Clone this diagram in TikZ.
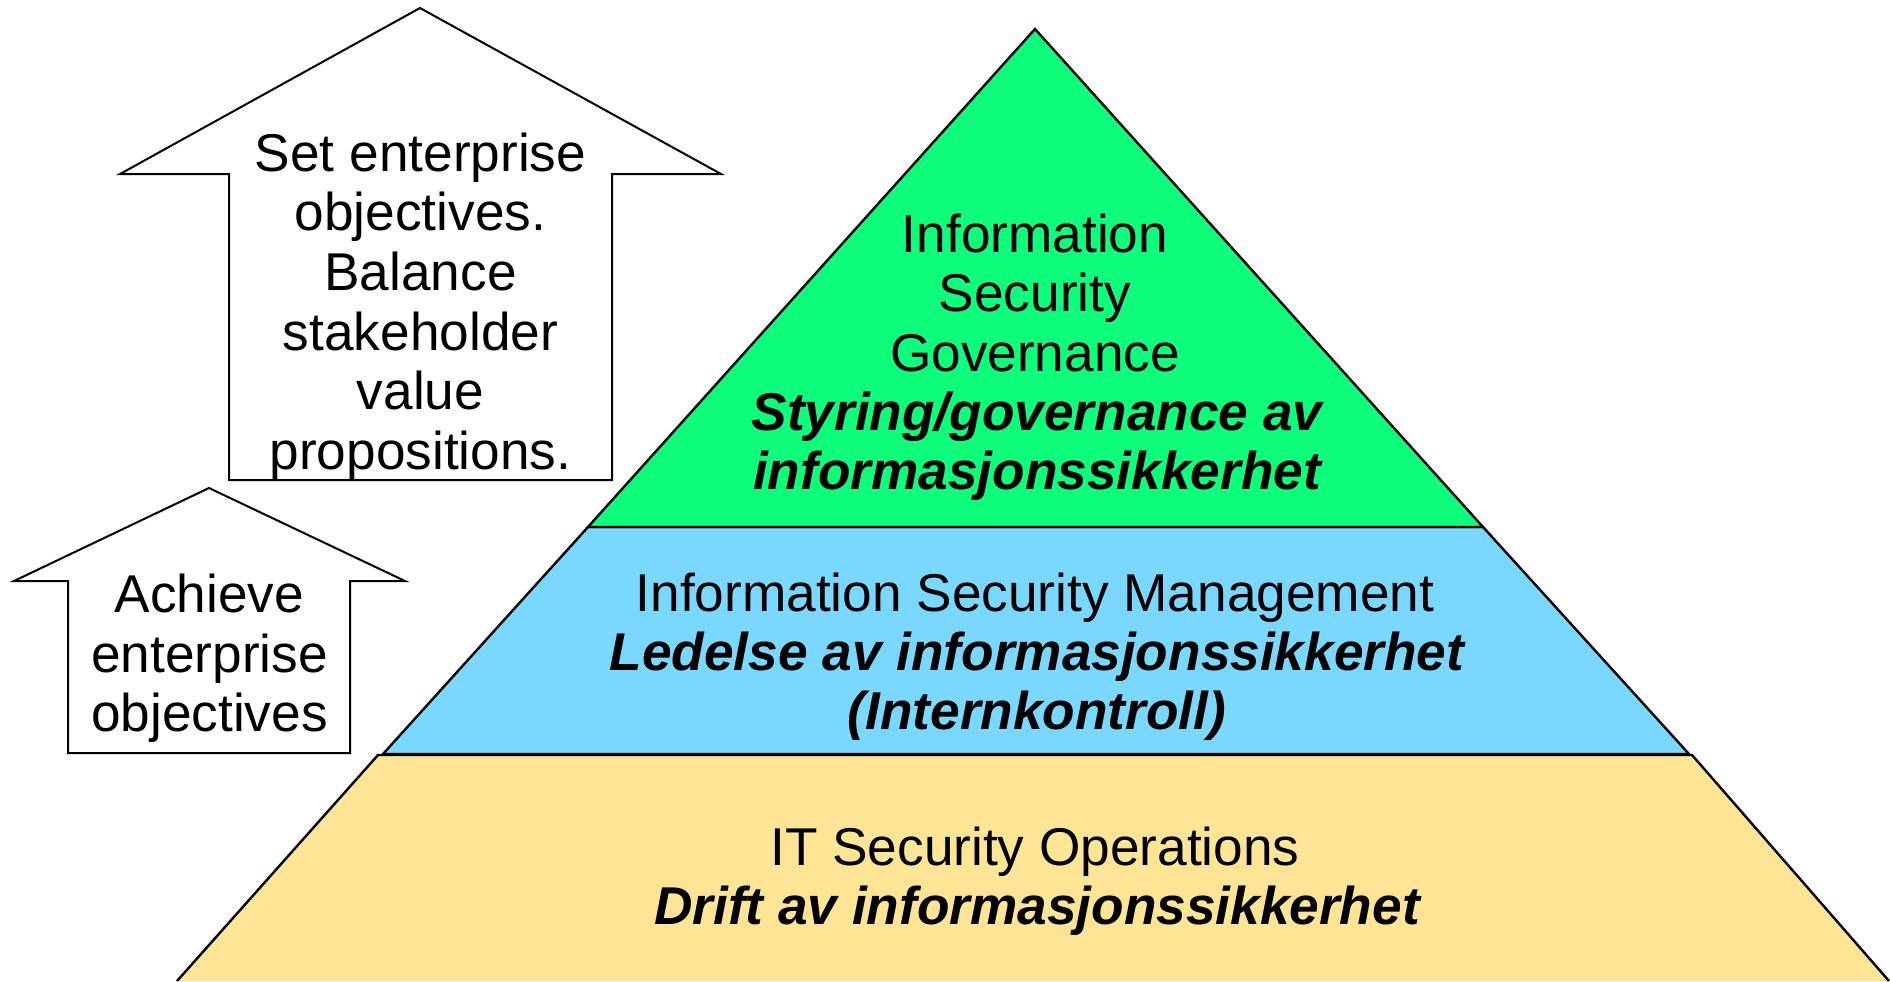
\documentclass[tikz,border=0pt]{standalone}
\usepackage{fontspec}
\setmainfont{Liberation Sans}
\definecolor{govgreen}{RGB}{14,253,122}
\definecolor{mgmtblue}{RGB}{122,216,254}
\definecolor{opsyellow}{RGB}{254,229,150}
\tikzset{
  lbl/.style={font=\fontsize{26.6}{29.8}\selectfont, inner sep=0pt, anchor=base},
  lblbi/.style={lbl, font=\fontsize{26.6}{29.8}\selectfont\bfseries\itshape},
  arrowoutline/.style={draw=black, line width=1pt, fill=white, line join=miter},
  tierline/.style={draw=black, line width=1.2pt, line join=miter},
}
\begin{document}
\begin{tikzpicture}[x=0.5pt,y=-0.5pt]
\useasboundingbox (0,0) rectangle (1890,981);
% pyramid tiers
\fill[opsyellow] (378,755) -- (1692,755) -- (1889,981) -- (177,981) -- cycle;
\draw[tierline] (177,981) -- (378,755) -- (1692,755) -- (1889,981);
\draw[tierline, fill=mgmtblue] (588,527) -- (1483,527) -- (1689,754) -- (383,754) -- cycle;
\draw[tierline, fill=govgreen] (1035,29) -- (1483,527) -- (588,527) -- cycle;
% big arrow
\draw[arrowoutline] (420,8) -- (721,174) -- (612,174) -- (612,480) -- (229,480) -- (229,174) -- (120,174) -- cycle;
% small arrow
\draw[arrowoutline] (209,488) -- (405,581) -- (350,581) -- (350,753) -- (68,753) -- (68,581) -- (14,581) -- cycle;
% big arrow text
\node[lbl] (b1) at (420.5,171) {Set enterprise};
\node[lbl] (b2) at (420.5,230.5) {objectives.};
\node[lbl] (b3) at (420.5,290) {Balance};
\node[lbl] (b4) at (420.5,350) {stakeholder};
\node[lbl] (b5) at (420.5,409.5) {value};
\node[lbl] (b6) at (420.5,469) {propositions.};
% small arrow text
\node[lbl] (s1) at (209.5,612) {Achieve};
\node[lbl] (s2) at (209.5,672) {enterprise};
\node[lbl] (s3) at (209.5,731) {objectives};
% governance text
\node[lbl] (g1) at (1035,252) {Information};
\node[lbl] (g2) at (1035,311) {Security};
\node[lbl] (g3) at (1035,371) {Governance};
\node[lblbi] (g4) at (1037,430) {Styring/governance av};
\node[lblbi] (g5) at (1037,489) {informasjonssikkerhet};
% management text
\node[lbl] (m1) at (1035,611) {Information Security Management};
\node[lblbi] (m2) at (1037,670) {Ledelse av informasjonssikkerhet};
\node[lblbi] (m3) at (1037,729) {(Internkontroll)};
% operations text
\node[lbl] (o1) at (1035,865) {IT Security Operations};
\node[lblbi] (o2) at (1037,924) {Drift av informasjonssikkerhet};
\end{tikzpicture}
\end{document}
